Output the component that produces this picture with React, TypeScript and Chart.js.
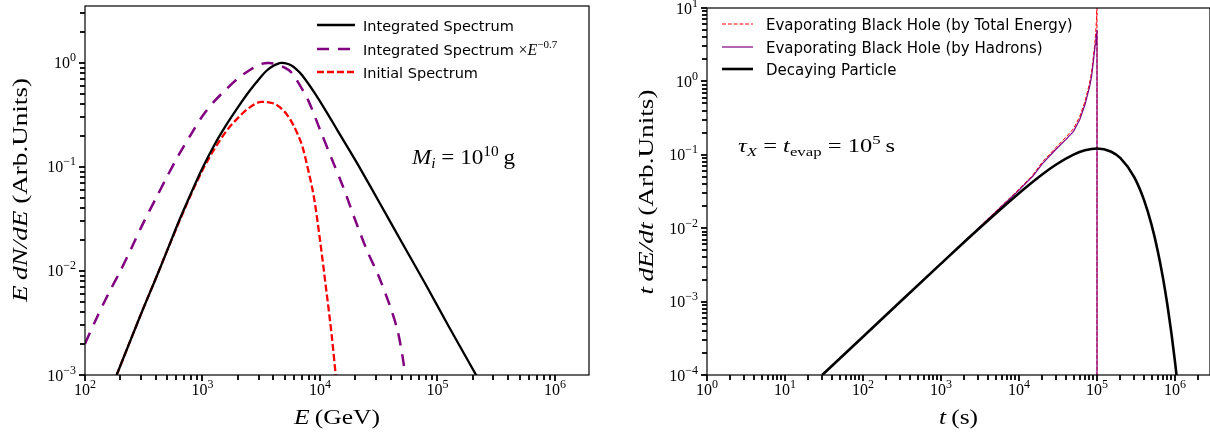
import React, { useEffect, useRef } from "react";
import { Chart, registerables } from "chart.js";

Chart.register(...registerables);

const SERIF = '"Liberation Serif", "Times New Roman", serif';
const SANS = '"DejaVu Sans", sans-serif';

// ---------------- Left panel: spectra ----------------
const integratedEnergy = [186, 251, 316, 398, 501, 631, 794, 1000, 1259, 1585, 1995, 2512, 3162, 3548, 3981, 4365, 4677, 5012, 5623, 6310, 7079, 8913, 11220, 14125, 17783, 22387, 31623, 50119, 79433, 125893, 218776];
const integratedSpectrum = [0.001, 0.00234, 0.00447, 0.00832, 0.0158, 0.0302, 0.055, 0.0977, 0.162, 0.251, 0.372, 0.537, 0.741, 0.851, 0.933, 0.98, 1.0, 0.995, 0.955, 0.87, 0.759, 0.525, 0.347, 0.224, 0.145, 0.0933, 0.0468, 0.0186, 0.00741, 0.00288, 0.00095];

const scaledEnergy = [100, 126, 158, 200, 251, 316, 398, 501, 631, 794, 1000, 1259, 1585, 1995, 2512, 3162, 3715, 4467, 5012, 5623, 6310, 7943, 10000, 12589, 15849, 19953, 25119, 31623, 39811, 45709, 50119, 53703];
const scaledSpectrum = [0.002, 0.00355, 0.00603, 0.01, 0.017, 0.0295, 0.049, 0.0813, 0.132, 0.204, 0.309, 0.427, 0.556, 0.708, 0.851, 0.977, 1.0, 0.955, 0.902, 0.826, 0.692, 0.437, 0.229, 0.12, 0.0631, 0.0309, 0.0158, 0.00891, 0.00447, 0.00269, 0.00158, 0.00093];

const initialEnergy = [186, 251, 316, 398, 501, 631, 794, 1000, 1259, 1585, 1995, 2512, 3162, 3981, 5012, 5623, 6310, 7079, 7943, 8913, 10000, 11220, 12589, 13804];
const initialSpectrum = [0.001, 0.00234, 0.00447, 0.00832, 0.0158, 0.0295, 0.0537, 0.0933, 0.148, 0.219, 0.295, 0.372, 0.422, 0.41, 0.339, 0.282, 0.219, 0.158, 0.0933, 0.0501, 0.02, 0.00708, 0.0024, 0.00085];

const leftXTicks = [100, 1000, 10000, 100000, 1000000];
const leftYTicks = [0.001, 0.01, 0.1, 1];
const leftXRange = [100, 1.95e6];
const leftYRange = [0.001, 3.53];

// ---------------- Right panel: time profiles ----------------
const bhTotalTime = [30, 100, 1000, 10000, 15000, 20000, 30000, 40000, 50000, 60000, 70000, 80000, 85000, 90000, 93000, 95000, 97000, 98500, 99500, 100000, 100000];
const bhTotalRate = [1.0e-4, 3.3e-4, 3.3e-3, 0.034, 0.053, 0.08, 0.127, 0.174, 0.227, 0.33, 0.53, 0.93, 1.3, 2.2, 3.0, 3.9, 5.3, 7.0, 11, 30, 1e-6];

const bhHadronTime = [30, 100, 1000, 10000, 15000, 20000, 30000, 40000, 50000, 60000, 70000, 80000, 85000, 90000, 93000, 95000, 97000, 98500, 99500, 100000, 100000];
const bhHadronRate = [1.0e-4, 3.3e-4, 3.3e-3, 0.033, 0.051, 0.076, 0.12, 0.162, 0.209, 0.3, 0.48, 0.83, 1.15, 1.9, 2.6, 3.2, 3.9, 4.4, 4.8, 5.0, 1e-6];

const decayTime = [30, 100, 300, 1000, 3000, 10000, 20000, 30000, 50000, 70000, 100000, 150000, 200000, 300000, 400000, 500000, 600000, 700000, 800000, 900000, 1000000, 1050000];
const decayRate = [1.0e-4, 3.32e-4, 9.96e-4, 3.29e-3, 9.67e-3, 0.03, 0.0544, 0.0738, 0.1007, 0.1154, 0.1221, 0.1111, 0.0899, 0.0496, 0.0243, 0.01118, 0.00494, 0.00212, 0.000891, 0.000369, 0.000151, 0.000096];

const rightXTicks = [1, 10, 100, 1000, 10000, 100000, 1000000];
const rightYTicks = [1e-4, 1e-3, 1e-2, 1e-1, 1, 10];
const rightXRange = [1, 2.81e6];
const rightYRange = [1e-4, 10];

// ---------------- text helpers ----------------
type Run = { t: string; f: string; dy?: number };

function measureRuns(ctx: CanvasRenderingContext2D, runs: Run[]) {
  let w = 0;
  for (const r of runs) {
    ctx.font = r.f;
    w += ctx.measureText(r.t).width;
  }
  return w;
}

function drawRuns(
  ctx: CanvasRenderingContext2D,
  runs: Run[],
  x: number,
  y: number,
  align: "left" | "center" | "right",
  targetW?: number
) {
  const w = measureRuns(ctx, runs);
  const k = targetW ? targetW / w : 1;
  ctx.save();
  ctx.translate(x, y);
  ctx.scale(k, 1);
  ctx.textAlign = "left";
  ctx.textBaseline = "alphabetic";
  let cx = align === "left" ? 0 : align === "center" ? -w / 2 : -w;
  for (const r of runs) {
    ctx.font = r.f;
    ctx.fillText(r.t, cx, r.dy || 0);
    cx += ctx.measureText(r.t).width;
  }
  ctx.restore();
}

function pow10Runs(v: number): Run[] {
  const e = Math.round(Math.log10(v));
  const s = e < 0 ? "\u2212" + Math.abs(e) : String(e);
  return [
    { t: "10", f: `16px ${SERIF}` },
    { t: s, f: `12px ${SERIF}`, dy: -7 },
  ];
}

interface LegendItem {
  label: Run[];
  color: string;
  width: number;
  dash: number[];
}

interface Decor {
  xRange: number[];
  yRange: number[];
  xTicks: number[];
  yTicks: number[];
  xTitle: Run[];
  xTitleW: number;
  yTitle: Run[];
  yTitleW: number;
  yTitleX: number;
  yTitleY: number;
  legend: { x0: number; x1: number; tx: number; rows: number[]; items: LegendItem[] };
  note: { runs: Run[]; x: number; y: number; w: number };
}

// all decade and sub-decade tick positions inside a range
function logTickList(range: number[]) {
  const out: { value: number; major: boolean }[] = [];
  const e0 = Math.floor(Math.log10(range[0]) + 1e-9);
  const e1 = Math.ceil(Math.log10(range[1]) - 1e-9);
  for (let e = e0; e <= e1; e++) {
    for (let m = 1; m <= 9; m++) {
      const v = m * Math.pow(10, e);
      if (v >= range[0] * 0.999 && v <= range[1] * 1.001) out.push({ value: v, major: m === 1 });
    }
  }
  return out;
}

function decorPlugin(d: Decor) {
  return {
    id: "decor",
    afterDraw(chart: any) {
      const ctx: CanvasRenderingContext2D = chart.ctx;
      const a = chart.chartArea;
      const xs = chart.scales.x;
      const ys = chart.scales.y;
      ctx.save();
      ctx.setLineDash([]);
      ctx.strokeStyle = "#000000";
      ctx.fillStyle = "#000000";
      ctx.lineWidth = 1.2;
      ctx.strokeRect(a.left, a.top, a.right - a.left, a.bottom - a.top);

      // tick marks, outward, on bottom and left spines
      const xt = logTickList(d.xRange);
      for (let i = 0; i < xt.length; i++) {
        const p = Math.round(xs.getPixelForValue(xt[i].value));
        ctx.fillRect(p - 0.9, a.bottom, 1.8, xt[i].major ? 6 : 5);
      }
      const yt = logTickList(d.yRange);
      for (let i = 0; i < yt.length; i++) {
        const p = Math.round(ys.getPixelForValue(yt[i].value));
        const len = yt[i].major ? 6 : 5;
        ctx.fillRect(a.left - len, p - 0.9, len, 1.8);
      }

      for (const v of d.xTicks) drawRuns(ctx, pow10Runs(v), xs.getPixelForValue(v), a.bottom + 20, "center");
      for (const v of d.yTicks) drawRuns(ctx, pow10Runs(v), a.left - 9, ys.getPixelForValue(v) + 5.5, "right");

      drawRuns(ctx, d.xTitle, (a.left + a.right) / 2, 424, "center", d.xTitleW);
      ctx.save();
      ctx.translate(d.yTitleX, d.yTitleY);
      ctx.rotate(-Math.PI / 2);
      drawRuns(ctx, d.yTitle, 0, 0, "center", d.yTitleW);
      ctx.restore();

      const L = d.legend;
      L.items.forEach((item, i) => {
        const y = L.rows[i];
        ctx.save();
        ctx.strokeStyle = item.color;
        ctx.lineWidth = item.width;
        ctx.setLineDash(item.dash);
        ctx.lineCap = "butt";
        ctx.beginPath();
        ctx.moveTo(L.x0, y);
        ctx.lineTo(L.x1, y);
        ctx.stroke();
        ctx.restore();
        drawRuns(ctx, item.label, L.tx, y + 5.5, "left");
      });

      drawRuns(ctx, d.note.runs, d.note.x, d.note.y, "left", d.note.w);
      ctx.restore();
    },
  };
}

function pts(xs: number[], ys: number[]) {
  return xs.map((x, i) => ({ x, y: ys[i] }));
}

function baseOptions(pad: any, xr: number[], yr: number[]) {
  return {
    responsive: false,
    animation: false as const,
    events: [],
    layout: { padding: pad },
    plugins: { legend: { display: false }, tooltip: { enabled: false } },
    elements: { point: { radius: 0 } },
    scales: {
      x: { type: "logarithmic" as const, min: xr[0], max: xr[1], display: false },
      y: { type: "logarithmic" as const, min: yr[0], max: yr[1], display: false },
    },
  };
}

const itf = (s: number) => `italic ${s}px ${SERIF}`;
const rmf = (s: number) => `${s}px ${SERIF}`;

export default function App() {
  const leftRef = useRef<HTMLCanvasElement>(null);
  const rightRef = useRef<HTMLCanvasElement>(null);

  useEffect(() => {
    const leftDecor: Decor = {
      xRange: leftXRange,
      yRange: leftYRange,
      xTicks: leftXTicks,
      yTicks: leftYTicks,
      xTitle: [{ t: "E", f: itf(22) }, { t: "\u2009(GeV)", f: rmf(22) }],
      xTitleW: 86,
      yTitle: [
        { t: "E", f: itf(22) },
        { t: "\u2009", f: rmf(22) },
        { t: "dN/dE", f: itf(22) },
        { t: " (Arb.Units)", f: rmf(22) },
      ],
      yTitleW: 224,
      yTitleX: 27,
      yTitleY: 190,
      legend: {
        x0: 317,
        x1: 355,
        tx: 363,
        rows: [25, 49, 72],
        items: [
          { label: [{ t: "Integrated Spectrum", f: `14.5px ${SANS}` }], color: "#000000", width: 2.3, dash: [] },
          {
            label: [
              { t: "Integrated Spectrum ", f: `14.5px ${SANS}` },
              { t: "\u00d7", f: rmf(16) },
              { t: "E", f: itf(16) },
              { t: "\u22120.7", f: rmf(11), dy: -7 },
            ],
            color: "#800080",
            width: 2.5,
            dash: [12, 9],
          },
          { label: [{ t: "Initial Spectrum", f: `14.5px ${SANS}` }], color: "#ff0000", width: 2.3, dash: [7, 3] },
        ],
      },
      note: {
        runs: [
          { t: "M", f: itf(21) },
          { t: "i", f: itf(14), dy: 4 },
          { t: " = 10", f: rmf(21) },
          { t: "10", f: rmf(14), dy: -8 },
          { t: "\u2009g", f: rmf(21) },
        ],
        x: 412,
        y: 164,
        w: 103,
      },
    };

    const rightDecor: Decor = {
      xRange: rightXRange,
      yRange: rightYRange,
      xTicks: rightXTicks,
      yTicks: rightYTicks,
      xTitle: [{ t: "t", f: itf(22) }, { t: "\u2009(s)", f: rmf(22) }],
      xTitleW: 39,
      yTitle: [
        { t: "t", f: itf(22) },
        { t: "\u2009", f: rmf(22) },
        { t: "dE/dt", f: itf(22) },
        { t: " (Arb.Units)", f: rmf(22) },
      ],
      yTitleW: 205,
      yTitleX: 52.5,
      yTitleY: 192,
      legend: {
        x0: 122,
        x1: 153,
        tx: 166,
        rows: [24, 47, 69],
        items: [
          { label: [{ t: "Evaporating Black Hole (by Total Energy)", f: `15px ${SANS}` }], color: "#ff0000", width: 1, dash: [4, 1.8] },
          { label: [{ t: "Evaporating Black Hole (by Hadrons)", f: `15px ${SANS}` }], color: "#800080", width: 1.2, dash: [] },
          { label: [{ t: "Decaying Particle", f: `15px ${SANS}` }], color: "#000000", width: 2.6, dash: [] },
        ],
      },
      note: {
        runs: [
          { t: "\u03c4", f: itf(19) },
          { t: "X", f: itf(13), dy: 4 },
          { t: " = ", f: rmf(19) },
          { t: "t", f: itf(19) },
          { t: "evap", f: rmf(13), dy: 4 },
          { t: " = 10", f: rmf(19) },
          { t: "5", f: rmf(13), dy: -8 },
          { t: "\u2009s", f: rmf(19) },
        ],
        x: 138,
        y: 152,
        w: 157,
      },
    };

    const left = new Chart(leftRef.current!, {
      type: "line",
      data: {
        datasets: [
          {
            label: "Integrated Spectrum",
            data: pts(integratedEnergy, integratedSpectrum),
            borderColor: "#000000",
            borderWidth: 2.3,
            tension: 0.3,
            fill: false,
            clip: 0,
          },
          {
            label: "Integrated Spectrum ×E^-0.7",
            data: pts(scaledEnergy, scaledSpectrum),
            borderColor: "#800080",
            borderWidth: 2.5,
            borderDash: [12, 9],
            tension: 0.3,
            fill: false,
            clip: 0,
          },
          {
            label: "Initial Spectrum",
            data: pts(initialEnergy, initialSpectrum),
            borderColor: "#ff0000",
            borderWidth: 2.3,
            borderDash: [7, 3],
            cubicInterpolationMode: "monotone",
            fill: false,
            clip: 0,
          },
        ],
      },
      options: baseOptions({ left: 85, right: 11, top: 6, bottom: 59 }, leftXRange, leftYRange) as any,
      plugins: [decorPlugin(leftDecor)],
    });

    const right = new Chart(rightRef.current!, {
      type: "line",
      data: {
        datasets: [
          {
            label: "Decaying Particle",
            data: pts(decayTime, decayRate),
            borderColor: "#000000",
            borderWidth: 2.6,
            cubicInterpolationMode: "monotone",
            fill: false,
            clip: 0,
          },
          {
            label: "Evaporating Black Hole (by Hadrons)",
            data: pts(bhHadronTime, bhHadronRate),
            borderColor: "#800080",
            borderWidth: 1.2,
            tension: 0,
            fill: false,
            clip: 0,
          },
          {
            label: "Evaporating Black Hole (by Total Energy)",
            data: pts(bhTotalTime, bhTotalRate),
            borderColor: "#ff0000",
            borderWidth: 1,
            borderDash: [4, 1.8],
            tension: 0,
            fill: false,
            clip: 0,
          },
        ],
      },
      options: baseOptions({ left: 107, right: 0, top: 8, bottom: 59 }, rightXRange, rightYRange) as any,
      plugins: [decorPlugin(rightDecor)],
    });

    return () => {
      left.destroy();
      right.destroy();
    };
  }, []);

  return (
    <div
      style={{
        position: "fixed",
        left: 0,
        top: 0,
        width: 1210,
        height: 434,
        overflow: "hidden",
        background: "#ffffff",
      }}
    >
      <canvas
        ref={leftRef}
        width={600}
        height={434}
        style={{ position: "absolute", left: 0, top: 0, width: 600, height: 434 }}
      />
      <canvas
        ref={rightRef}
        width={610}
        height={434}
        style={{ position: "absolute", left: 600, top: 0, width: 610, height: 434 }}
      />
    </div>
  );
}
